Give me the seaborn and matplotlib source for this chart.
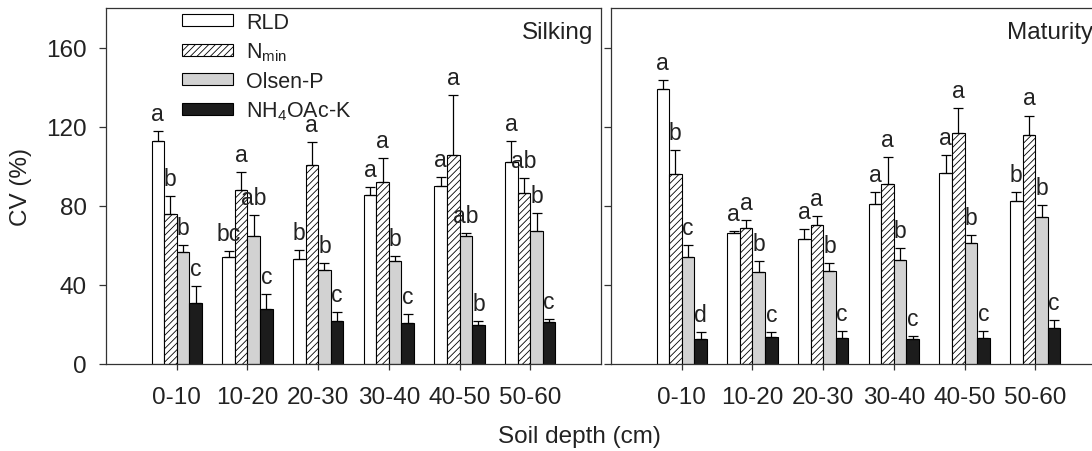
import numpy as np
import pandas as pd
import matplotlib
matplotlib.use("Agg")
import matplotlib.pyplot as plt
import seaborn as sns
from matplotlib.patches import Patch

# ---------------- data ----------------
depths = ["0-10", "10-20", "20-30", "30-40", "40-50", "50-60"]
variables = ["RLD", "Nmin", "Olsen-P", "NH4OAc-K"]
legend_labels = ["RLD", r"N$_{\mathrm{min}}$", "Olsen-P", r"NH$_{\mathrm{4}}$OAc-K"]

silk_rld = [113, 54, 53, 85.5, 90, 102]
silk_nmin = [76, 88, 100.6, 92, 105.5, 86.6]
silk_olsen = [56.4, 64.6, 47.3, 52.3, 64.6, 67]
silk_k = [30.8, 27.9, 21.9, 20.7, 19.8, 21]
silk_rld_err = [5, 3, 4.7, 4, 4.6, 10.6]
silk_nmin_err = [9, 9, 11.6, 12, 30.3, 7.6]
silk_olsen_err = [3.8, 10.6, 3.8, 2.2, 1.5, 9.2]
silk_k_err = [8.4, 7.4, 4.3, 4.7, 1.7, 1.7]
silk_letters = [["a", "b", "b", "c"], ["bc", "a", "ab", "c"], ["b", "a", "b", "c"],
                ["a", "a", "b", "c"], ["a", "a", "ab", "b"], ["a", "ab", "b", "c"]]

mat_rld = [138.8, 66, 63.4, 81, 96.7, 82.3]
mat_nmin = [96, 69, 70.3, 91.2, 116.6, 116]
mat_olsen = [53.9, 46.3, 46.8, 52.5, 61, 74.5]
mat_k = [12.6, 13.8, 13.1, 12.6, 13.3, 18.3]
mat_rld_err = [4.7, 1.3, 4.7, 5.9, 8.8, 4.7]
mat_nmin_err = [12.3, 3.7, 4.4, 13.4, 13, 9.6]
mat_olsen_err = [6.3, 5.7, 4.3, 5.9, 4.2, 5.9]
mat_k_err = [3.4, 2.2, 3.4, 1.4, 3.2, 4.1]
mat_letters = [["a", "b", "c", "d"], ["a", "a", "b", "c"], ["a", "a", "b", "c"],
               ["a", "a", "b", "c"], ["a", "a", "b", "c"], ["b", "a", "b", "c"]]

panels = [
    ("Silking", 0.984, [silk_rld, silk_nmin, silk_olsen, silk_k],
     [silk_rld_err, silk_nmin_err, silk_olsen_err, silk_k_err], silk_letters),
    ("Maturity", 0.974, [mat_rld, mat_nmin, mat_olsen, mat_k],
     [mat_rld_err, mat_nmin_err, mat_olsen_err, mat_k_err], mat_letters),
]

# ---------------- style ----------------
sns.set_style("ticks")
plt.rcParams["font.family"] = ["Liberation Sans", "DejaVu Sans"]
plt.rcParams["mathtext.fontset"] = "custom"
plt.rcParams["mathtext.rm"] = "Liberation Sans"
plt.rcParams["mathtext.it"] = "Liberation Sans:italic"
plt.rcParams["hatch.linewidth"] = 0.6
plt.rcParams["hatch.color"] = "#222222"

facecolors = ["white", "white", "#d2d2d2", "#1c1c1c"]
hatches = ["", "/////", "", ""]
palette = dict(zip(variables, facecolors))
txt_color = "#222222"
spine_color = "#333333"

fig = plt.figure(figsize=(10.92, 4.52), dpi=100)
W, H = 1092, 452
ax1 = fig.add_axes([106 / W, 87 / H, 495 / W, 356 / H])
ax2 = fig.add_axes([611 / W, 87 / H, 495 / W, 356 / H])

for ax, (title, tx, vals, errs, letters) in zip([ax1, ax2], panels):
    rows = []
    for v, vlist in zip(variables, vals):
        for d, val in zip(depths, vlist):
            rows.append({"depth": d, "var": v, "cv": val})
    df = pd.DataFrame(rows)
    sns.barplot(data=df, x="depth", y="cv", hue="var", order=depths,
                hue_order=variables, palette=palette, saturation=1,
                width=0.713, gap=0, errorbar=None, edgecolor="black",
                linewidth=0.8, legend=False, ax=ax)
    bar_containers = list(ax.containers)
    for ci, cont in enumerate(bar_containers):
        for j, bar in enumerate(cont.patches):
            bar.set_hatch(hatches[ci])
            bar.set_edgecolor("black")
            xc = bar.get_x() + bar.get_width() / 2
            top = bar.get_height()
            e = errs[ci][j]
            ax.errorbar([xc], [top], yerr=[[0], [e]], fmt="none", ecolor="black",
                        elinewidth=0.9, capsize=3.8, capthick=0.9, zorder=1)
            ax.annotate(letters[j][ci], xy=(xc, top + e), xytext=(0, 8),
                        textcoords="offset points", ha="center", va="baseline",
                        fontsize=16.5, color=txt_color)
    ax.set_xlim(-1, 6)
    ax.set_ylim(0, 180)
    ax.set_yticks([0, 40, 80, 120, 160])
    ax.set_xlabel("")
    ax.set_ylabel("")
    ax.tick_params(axis="both", direction="out", width=0.9,
                   colors=spine_color, labelcolor=txt_color, labelsize=17.5)
    ax.tick_params(axis="y", length=5, pad=9)
    ax.tick_params(axis="x", length=4.5, pad=11)
    for s in ax.spines.values():
        s.set_visible(True)
        s.set_color(spine_color)
        s.set_linewidth(0.9)
    ax.text(tx, 0.916, title, transform=ax.transAxes, ha="right",
            va="baseline", fontsize=17.5, color=txt_color, clip_on=False)

ax2.set_yticklabels([])
fig.text(21.5 / W, 1 - 186.5 / H, "CV (%)", rotation=90, ha="center", va="center",
         fontsize=17.5, color=txt_color)
fig.text(579 / W, 1 - 437 / H, "Soil depth (cm)", ha="center", va="center",
         fontsize=17.5, color=txt_color)

handles = [Patch(facecolor=fc, edgecolor="black", hatch=h, linewidth=0.8)
           for fc, h in zip(facecolors, hatches)]
ax1.legend(handles, legend_labels, loc="upper left", bbox_to_anchor=(0.154, 0.99),
           frameon=False, fontsize=15.5, handlelength=2.37, handleheight=0.47,
           handletextpad=0.6, labelspacing=0.36, borderpad=0, borderaxespad=0,
           labelcolor=txt_color)

fig.savefig("out.png", dpi=100)
